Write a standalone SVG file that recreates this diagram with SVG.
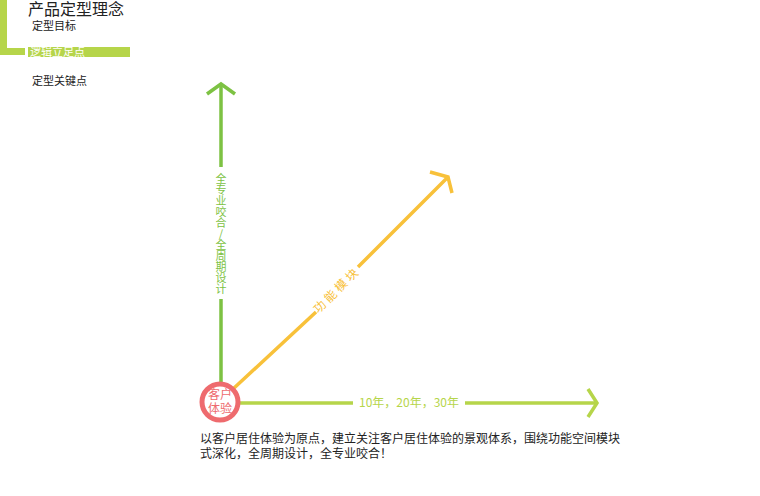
<svg xmlns="http://www.w3.org/2000/svg" width="760" height="496" viewBox="0 0 760 496">
<style>
text{font-family:"Noto Sans CJK SC","Liberation Sans",sans-serif;}
.ax{fill:none;stroke-width:3.5;stroke-linecap:butt;}
.v{stroke:#7dc243;}
.h{stroke:#b6d54a;}
.d{stroke:#f8c13a;}
.ah{fill:none;stroke-width:3.5;stroke-linejoin:miter;}
</style>
<rect width="760" height="496" fill="#ffffff"/>
<g id="header">
<path d="M0 0 H7 V48 H25 V55 H0 Z" fill="#b6d54a"/>
<rect x="28" y="47" width="102" height="10" fill="#b6d54a"/>
<text x="28" y="15" font-size="16" fill="#222">产品定型理念</text>
<text x="32" y="30" font-size="11" fill="#222">定型目标</text>
<text x="30" y="56" font-size="11" fill="#ffffff">逻辑立足点</text>
<text x="32" y="85" font-size="11" fill="#222">定型关键点</text>
</g>
<g id="connectors">
<path class="ax v" d="M221 85 V167 M221 299 V384"/>
<path class="ah v" d="M207 94 L221 84 L235 94"/>
<path class="ax d" d="M233 389 L316 312 M358 267 L448 177"/>
<path class="ah d" d="M430 172 L448 177 L452 193"/>
<path class="ax h" d="M239 403 H353 M465 403 H596"/>
<path class="ah h" d="M588 389 L597 403 L588 417"/>
</g>
<g id="label-v" font-size="11" fill="#7dc243" text-anchor="middle">
<text x="221" y="183">全</text>
<text x="221" y="194">专</text>
<text x="221" y="205">业</text>
<text x="221" y="216">咬</text>
<text x="221" y="227">合</text>
<text x="221" y="238">/</text>
<text x="221" y="249">全</text>
<text x="221" y="260">周</text>
<text x="221" y="271">期</text>
<text x="221" y="282">设</text>
<text x="221" y="293">计</text>
</g>
<g id="label-d" font-size="12" fill="#f8c13a">
<text transform="translate(337,290) rotate(-45)" text-anchor="middle" dy="4" letter-spacing="3">功能模块</text>
</g>
<g id="label-h">
<text x="409" y="407" font-size="12" fill="#b6d54a" text-anchor="middle">10年，20年，30年</text>
</g>
<g id="node-center">
<circle cx="220" cy="402" r="18" fill="#ffffff" stroke="#ee6b6e" stroke-width="5"/>
<text x="220" y="399" font-size="12" fill="#ee6b6e" text-anchor="middle">客户</text>
<text x="220" y="413" font-size="12" fill="#ee6b6e" text-anchor="middle">体验</text>
</g>
<g id="caption" font-size="12" fill="#222">
<text x="200" y="443">以客户居住体验为原点，建立关注客户居住体验的景观体系，围绕功能空间模块</text>
<text x="200" y="458">式深化，全周期设计，全专业咬合！</text>
</g>
</svg>
